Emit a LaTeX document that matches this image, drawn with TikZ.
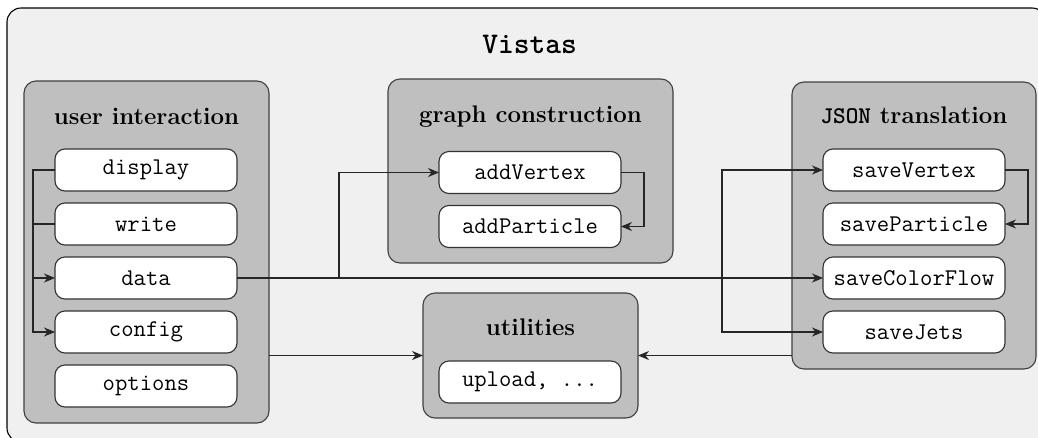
\documentclass[tikz,border=0pt]{standalone}
\usepackage{fontspec}
\usetikzlibrary{arrows.meta}
\definecolor{outerbg}{HTML}{F0F0F0}
\definecolor{panelbg}{HTML}{BFBFBF}
\begin{document}
\begin{tikzpicture}[x=1pt,y=-1pt,
  panel/.style={draw=black!75, fill=panelbg, rounded corners=12pt, line width=1.1pt, inner sep=0pt, outer sep=0pt},
  item/.style={draw=black!80, fill=white, rounded corners=10pt, line width=1.1pt, minimum width=182pt, minimum height=42pt, inner sep=0pt, outer sep=0pt, font=\fontsize{24}{28}\selectfont\ttfamily},
  ptitle/.style={anchor=base, inner sep=0pt, font=\fontsize{24}{28}\selectfont\bfseries},
  conn/.style={line width=1.1pt, draw=black!85},
  arr/.style={conn, -{Stealth[length=11pt,width=9pt,inset=3.5pt]}}]
\useasboundingbox (0,0) rectangle (1038,437);
\begin{scope}
\clip (0,0) rectangle (1038,437);
\draw[fill=outerbg, line width=1.1pt, rounded corners=14pt] (7,8) rectangle (1046,442);
\end{scope}
\node[anchor=base, inner sep=0pt, font=\fontsize{30}{34}\selectfont\ttfamily\bfseries] (title) at (529.5,53) {Vistas};

% panels
\node[panel, minimum width=245pt, minimum height=342pt] (ui) at (146.5,252) {};
\node[panel, minimum width=285pt, minimum height=184pt] (gc) at (530.5,171) {};
\node[panel, minimum width=215pt, minimum height=125pt] (util) at (530.5,355.5) {};
\node[panel, minimum width=244pt, minimum height=287pt] (json) at (914,225.5) {};

\node[ptitle] (uiT) at (146.5,124) {user interaction};
\node[ptitle] (gcT) at (530.5,122) {graph construction};
\node[ptitle] (utilT) at (530.5,335) {utilities};
\node[ptitle] (jsonT) at (914,123) {\texttt{JSON} translation};

% items
\node[item] (display) at (146,170) {display};
\node[item] (write) at (146,224) {write};
\node[item] (data) at (146,278) {data};
\node[item] (config) at (146,332) {config};
\node[item] (options) at (146,386) {options};
\node[item] (addVertex) at (530,172.5) {addVertex};
\node[item] (addParticle) at (530,226.5) {addParticle};
\node[item] (upload) at (530,382) {upload, ...};
\node[item] (saveVertex) at (914,170) {saveVertex};
\node[item] (saveParticle) at (914,224) {saveParticle};
\node[item] (saveColorFlow) at (914,278) {saveColorFlow};
\node[item] (saveJets) at (914,332) {saveJets};

% connectors
\coordinate (busx) at (33,0);
\coordinate (jA) at (339,0);
\coordinate (jB) at (722,0);
\draw[conn] (display.west) -- (display.west -| busx) |- (write.west);
\draw[arr] (display.west -| busx) |- (data.west);
\draw[arr] (display.west -| busx) |- (config.west);

\draw[conn, line width=1.9pt] (data.east) -- (data.east -| jB);
\draw[arr] (data.east) -- (data.east -| jA) |- (addVertex.west);
\draw[arr] (data.east) -- (saveColorFlow.west);
\draw[arr] (data.east) -- (data.east -| jB) |- (saveVertex.west);
\draw[arr] (data.east -| jB) |- (saveJets.west);

\draw[arr] (addVertex.east) -- ++(23,0) |- (addParticle.east);
\draw[arr] (saveVertex.east) -- ++(23,0) |- (saveParticle.east);

\draw[arr] (ui.east |- util.west) -- (util.west);
\draw[arr] (json.west |- util.east) -- (util.east);
\end{tikzpicture}
\end{document}
